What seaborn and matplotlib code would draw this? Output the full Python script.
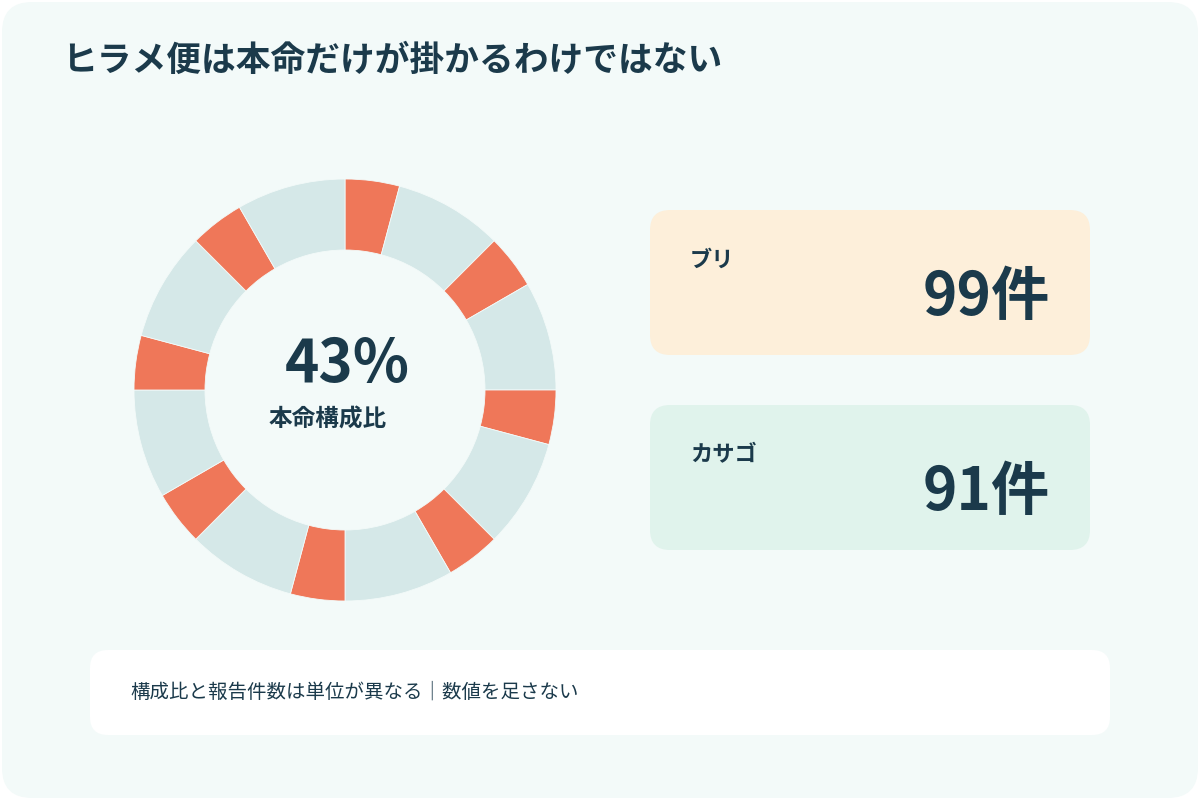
import matplotlib
matplotlib.use("Agg")
import matplotlib.pyplot as plt
import seaborn as sns
from matplotlib.patches import FancyBboxPatch

sns.set_theme(style="white")
plt.rcParams['font.family'] = ['Noto Sans CJK JP', 'DejaVu Sans']

title = "ヒラメ便は本命だけが掛かるわけではない"
ring_values = [15, 30, 15, 30, 15, 30, 15, 30, 15, 30, 15, 30, 15, 30, 15, 30]
ring_colors = ["#EF7759", "#D5E8E8"] * 8
center_value = "43%"
center_label = "本命構成比"
card_names = ["ブリ", "カサゴ"]
card_values = ["99件", "91件"]
card_colors = ["#FDEFDA", "#E0F3EC"]
footer = "構成比と報告件数は単位が異なる｜数値を足さない"
ink = "#1B3A4B"

fig = plt.figure(figsize=(12, 8), dpi=100)
fig.patch.set_facecolor("white")
ax = fig.add_axes([0, 0, 1, 1])
ax.set_xlim(0, 1200); ax.set_ylim(800, 0); ax.axis("off")
ax.add_patch(FancyBboxPatch((2, 2), 1196, 796, boxstyle="round,pad=0,rounding_size=30",
                            fc="#F3FAF9", ec="none"))
ax.text(62, 60, title, fontsize=25, fontweight="bold", color=ink, va="center")

for i, (n, v, c) in enumerate(zip(card_names, card_values, card_colors)):
    y0 = 210 + i * 195
    ax.add_patch(FancyBboxPatch((650, y0), 440, 145, boxstyle="round,pad=0,rounding_size=20",
                                fc=c, ec="none"))
    ax.text(690, y0 + 50, n, fontsize=16, fontweight="bold", color=ink, va="center")
    ax.text(1050, y0 + 88, v, fontsize=42, fontweight="bold", color=ink, va="center", ha="right")

ax.add_patch(FancyBboxPatch((90, 650), 1020, 85, boxstyle="round,pad=0,rounding_size=18",
                            fc="white", ec="none"))
ax.text(130, 692, footer, fontsize=14, color=ink, va="center")

# donut: center (345,390), outer r 211
dax = fig.add_axes([(345 - 211) / 1200, (800 - 390 - 211) / 800, 422 / 1200, 422 / 800])
dax.pie(ring_values, colors=ring_colors, startangle=90, counterclock=False, radius=1,
        wedgeprops=dict(width=71 / 211, edgecolor="#F3FAF9", linewidth=0.6))
dax.set_xlim(-1, 1); dax.set_ylim(-1, 1)
dax.set_aspect("equal"); dax.axis("off")
ax.text(347, 365, center_value, fontsize=42, fontweight="bold", color=ink, ha="center", va="center")
ax.text(328, 420, center_label, fontsize=17, fontweight="bold", color=ink, ha="center", va="center")

fig.savefig("out.png", dpi=100)
